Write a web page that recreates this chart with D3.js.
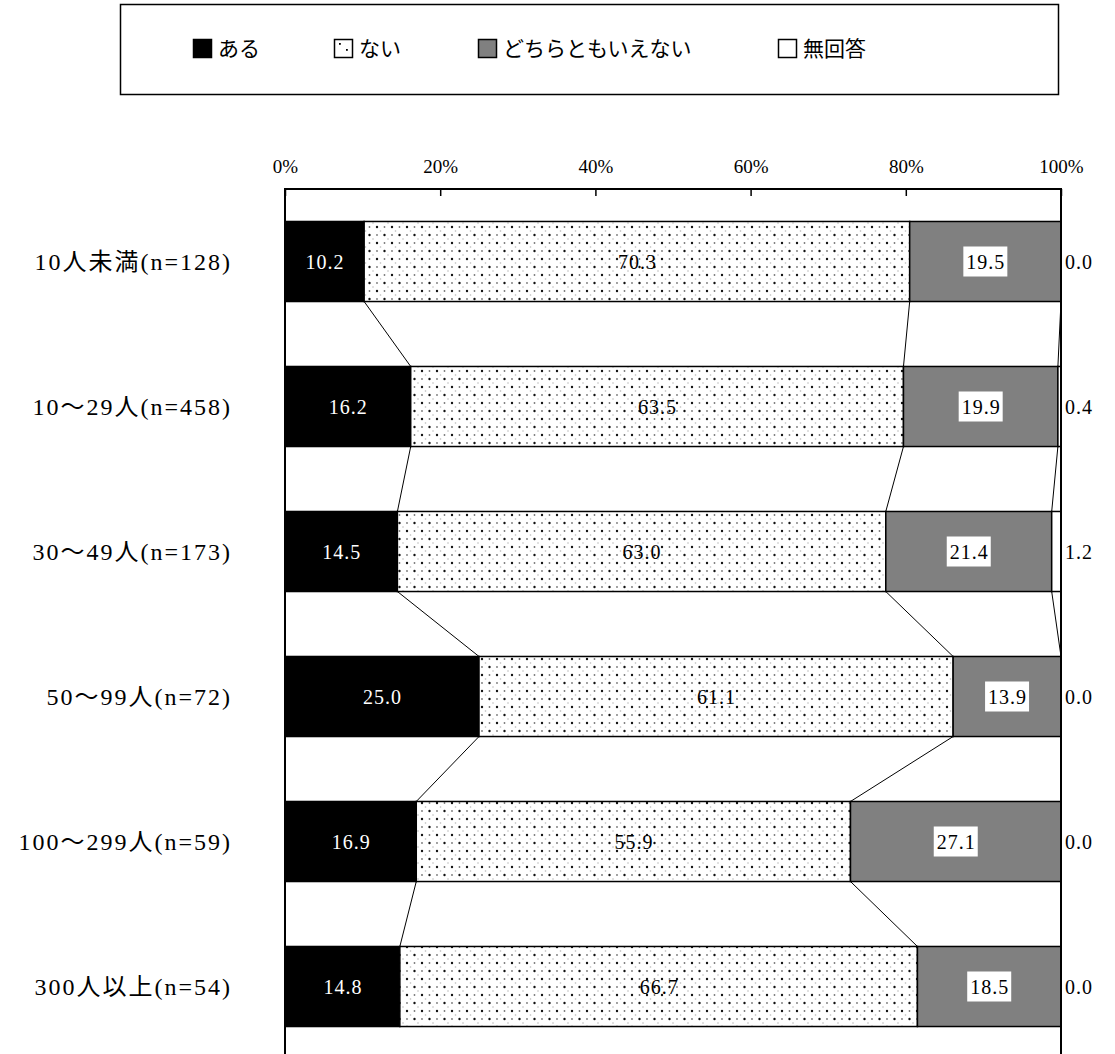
<!DOCTYPE html>
<html lang="ja">
<head>
<meta charset="utf-8">
<script src="https://cdn.jsdelivr.net/npm/d3@7"></script>
<style>
  html, body { margin: 0; padding: 0; background: #fff; }
  svg { display: block; }
  text { font-family: "Liberation Serif", "Noto Sans CJK JP", serif; fill: #000; }
</style>
</head>
<body>
<svg id="chart" width="1115" height="1054"></svg>
<script>
// Company size groups (rows, top to bottom)
const categories = ["10人未満(n=128)", "10～29人(n=458)", "30～49人(n=173)",
                    "50～99人(n=72)", "100～299人(n=59)", "300人以上(n=54)"];
// Response series
const seriesNames = ["ある", "ない", "どちらともいえない", "無回答"];
const aru      = [10.2, 16.2, 14.5, 25.0, 16.9, 14.8];
const nai      = [70.3, 63.5, 63.0, 61.1, 55.9, 66.7];
const dochira  = [19.5, 19.9, 21.4, 13.9, 27.1, 18.5];
const mukaitou = [0.0, 0.4, 1.2, 0.0, 0.0, 0.0];
const tickValues = [0, 20, 40, 60, 80, 100];

const rows = categories.map((c, i) => ({
  cat: c, "ある": aru[i], "ない": nai[i], "どちらともいえない": dochira[i], "無回答": mukaitou[i]
}));

const svg = d3.select("#chart");
const H = 1054;
const plot = { left: 285, right: 1061, top: 189 };
const band = 145;

const x = d3.scaleLinear().domain([0, 100]).range([plot.left, plot.right]);
const y = d3.scaleBand().domain(categories)
  .range([plot.top, plot.top + band * categories.length])
  .paddingInner(0.448).paddingOuter(0.224);

// 100% stacked: normalise each row by its total
const stack = d3.stack().keys(seriesNames).offset(d3.stackOffsetExpand);
const stacked = stack(rows);

const defs = svg.append("defs");
const pat = defs.append("pattern").attr("id", "dots")
  .attr("patternUnits", "userSpaceOnUse").attr("width", 15).attr("height", 16);
pat.append("rect").attr("width", 15).attr("height", 16).attr("fill", "#fff");
[[2, 3, "#111", 1.2], [9.5, 11, "#111", 1.2], [9.5, 3, "#777", 0.9], [2, 11, "#777", 0.9],
 [5.5, 7, "#bbb", 0.8], [13, 15, "#bbb", 0.8]].forEach(([cx, cy, col, r]) => {
  pat.append("circle").attr("cx", cx).attr("cy", cy).attr("r", r).attr("fill", col);
});

const fills = { "ある": "#000", "ない": "url(#dots)", "どちらともいえない": "#808080", "無回答": "#fff" };

// Legend
const leg = svg.append("g");
leg.append("rect").attr("x", 120.5).attr("y", 4.5).attr("width", 938).attr("height", 90)
  .attr("fill", "#fff").attr("stroke", "#000").attr("stroke-width", 1.5);
const legX = [193, 334, 478, 778];
seriesNames.forEach((s, i) => {
  const g = leg.append("g").attr("transform", `translate(${legX[i]},39)`);
  if (s === "ない") {
    g.append("rect").attr("x", 0.5).attr("y", 0.5).attr("width", 18).attr("height", 18)
      .attr("fill", "#fff").attr("stroke", "#000").attr("stroke-width", 1.5);
    g.append("rect").attr("x", 5).attr("y", 4).attr("width", 1.8).attr("height", 1.8).attr("fill", "#000");
    g.append("rect").attr("x", 12).attr("y", 10).attr("width", 1.8).attr("height", 1.8).attr("fill", "#000");
  } else {
    g.append("rect").attr("x", 0.5).attr("y", 0.5).attr("width", 18).attr("height", 18)
      .attr("fill", fills[s]).attr("stroke", "#000").attr("stroke-width", 1.5);
  }
  g.append("text").attr("x", 25).attr("y", 9.5).attr("dy", "0.36em")
    .attr("font-size", 21).text(s);
});

// Top axis with inward ticks
const axis = d3.axisTop(x).tickValues(tickValues).tickFormat(d => d + "%")
  .tickSize(-7).tickPadding(16);
const axG = svg.append("g").attr("transform", `translate(0,${plot.top})`).call(axis);
axG.select(".domain").remove();
axG.selectAll(".tick line").attr("stroke", "#000").attr("stroke-width", 1.5);
axG.selectAll(".tick text").attr("font-size", 19).attr("fill", "#000")
  .style("font-family", '"Liberation Serif", serif');

// Connector lines between adjacent bars at each cumulative boundary
const conn = svg.append("g").attr("stroke", "#000").attr("stroke-width", 1).attr("fill", "none");
for (let k = 0; k < seriesNames.length - 1; k++) {
  for (let i = 0; i < categories.length - 1; i++) {
    const a = stacked[k][i][1] * 100, b = stacked[k][i + 1][1] * 100;
    conn.append("line")
      .attr("x1", x(a)).attr("y1", y(categories[i]) + y.bandwidth())
      .attr("x2", x(b)).attr("y2", y(categories[i + 1]));
  }
}

// Bars
const layers = svg.append("g").selectAll("g").data(stacked).join("g")
  .attr("fill", d => fills[d.key]);
layers.selectAll("rect").data(d => d).join("rect")
  .attr("x", d => x(d[0] * 100))
  .attr("y", d => y(d.data.cat))
  .attr("width", d => x(d[1] * 100) - x(d[0] * 100))
  .attr("height", y.bandwidth())
  .attr("stroke", "#000").attr("stroke-width", 1.5);

// Frame
svg.append("path")
  .attr("d", `M${plot.left},${H + 5}V${plot.top}H${plot.right}V${H + 5}`)
  .attr("fill", "none").attr("stroke", "#000").attr("stroke-width", 2);

// Value labels
const labels = svg.append("g").attr("font-size", 20).attr("letter-spacing", 1);
stacked.forEach(layer => {
  layer.forEach((d, i) => {
    const v = rows[i][layer.key];
    const cy = y(d.data.cat) + y.bandwidth() / 2;
    const txt = v.toFixed(1);
    if (layer.key === "無回答") {
      labels.append("text").attr("x", 1079).attr("y", cy).attr("dy", "0.35em")
        .attr("text-anchor", "middle").text(txt);
      return;
    }
    const cx = (x(d[0] * 100) + x(d[1] * 100)) / 2;
    if (layer.key === "どちらともいえない") {
      labels.append("rect").attr("x", cx - 22).attr("y", cy - 15)
        .attr("width", 44).attr("height", 30).attr("fill", "#fff");
    }
    labels.append("text").attr("x", cx + 0.5).attr("y", cy).attr("dy", "0.35em")
      .attr("text-anchor", "middle")
      .style("fill", layer.key === "ある" ? "#fff" : "#000")
      .text(txt);
  });
});

// Category labels
svg.append("g").selectAll("text").data(categories).join("text")
  .attr("x", 232).attr("y", d => y(d) + y.bandwidth() / 2).attr("dy", "0.35em")
  .attr("text-anchor", "end").attr("font-size", 24).attr("letter-spacing", 2)
  .text(d => d);
</script>
</body>
</html>
